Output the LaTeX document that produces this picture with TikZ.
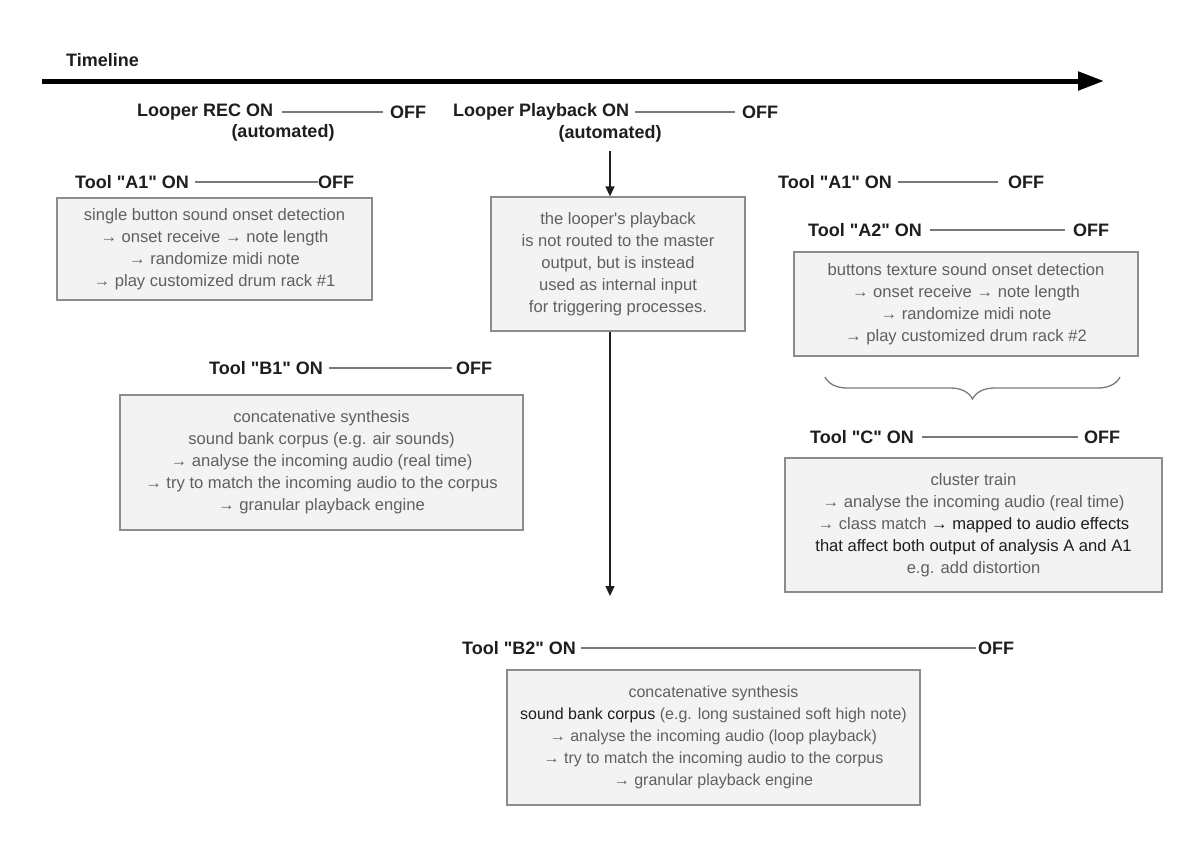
\documentclass[tikz,border=0pt]{standalone}
\usepackage{fontspec}
\setmainfont{Liberation Sans}[Ligatures=TeXOff]
\usetikzlibrary{arrows.meta,decorations.pathreplacing}
\definecolor{boxfill}{HTML}{F3F3F3}
\definecolor{boxline}{HTML}{8C8C8C}
\definecolor{boxtext}{HTML}{606060}
\definecolor{dark}{HTML}{1E1E1E}
\definecolor{spanline}{HTML}{7A7A7A}
\begin{document}
\begin{tikzpicture}[x=1pt,y=-1pt,
  lbl/.style={font=\fontsize{18}{20}\selectfont\bfseries, text=dark, inner sep=0pt},
  tbox/.style={draw=boxline, fill=boxfill, line width=1.3pt, align=center, text=boxtext,
               font=\fontsize{16.6}{22}\selectfont, inner sep=0pt},
  span/.style={draw=spanline, line width=1.3pt},
  flow/.style={draw=dark, line width=1.3pt, -{Triangle[length=10pt,width=9pt]}},
]
\useasboundingbox[fill=white] (0,0) rectangle (1200,844);

% timeline
\node[lbl, anchor=west] (tl) at (66,60) {Timeline};
\coordinate (tlstart) at (42,81);
\coordinate (tlend) at (1104,81);
\draw[line width=5pt, -{Triangle[length=26pt,width=18pt]}] (tlstart) -- (tlend);

% looper rec
\node[lbl, anchor=west] (recon) at (137,112) {Looper REC ON};
\node[lbl, anchor=west] (recoff) at (390,112) {OFF};
\draw[span] ([xshift=9pt]recon.east) -- ([xshift=-7pt]recoff.west);
\node[lbl] (recauto) at (283,133) {(automated)};

% looper playback
\node[lbl, anchor=west] (pbon) at (453,112) {Looper Playback ON};
\node[lbl, anchor=west] (pboff) at (742,112) {OFF};
\draw[span] ([xshift=6pt]pbon.east) -- ([xshift=-7pt]pboff.west);
\node[lbl] (pbauto) at (610,134) {(automated)};

% middle box
\node[tbox, minimum width=254pt, minimum height=134pt] (midbox) at (618,264)
  {the looper's playback\\is not routed to the master\\output, but is instead\\used as internal input\\for triggering processes.};
\draw[flow] ([yshift=-8pt]pbauto.south) -- (pbauto.south |- midbox.north);
\coordinate (b2tip) at (610,596);
\draw[flow] (midbox.south -| b2tip) -- (b2tip);

% tool A1 left
\node[lbl, anchor=west] (a1on) at (75,182) {Tool "A1" ON};
\node[lbl, anchor=west] (a1off) at (318,182) {OFF};
\draw[span] ([xshift=6pt]a1on.east) -- (a1off.west);
\node[tbox, minimum width=315pt, minimum height=102pt] (a1box) at (214.5,249)
  {single button sound onset detection\\→ onset receive → note length\\→ randomize midi note\\→ play customized drum rack \#1};

% tool B1
\node[lbl, anchor=west] (b1on) at (209,368) {Tool "B1" ON};
\node[lbl, anchor=west] (b1off) at (456,368) {OFF};
\draw[span] ([xshift=6pt]b1on.east) -- ([xshift=-4pt]b1off.west);
\node[tbox, minimum width=403pt, minimum height=135pt] (b1box) at (321.5,462.5)
  {concatenative synthesis\\sound bank corpus (e.g. air sounds)\\→ analyse the incoming audio (real time)\\→ try to match the incoming audio to the corpus\\→ granular playback engine};

% tool A1 right
\node[lbl, anchor=west] (a1ron) at (778,182) {Tool "A1" ON};
\node[lbl, anchor=west] (a1roff) at (1008,182) {OFF};
\draw[span] ([xshift=6pt]a1ron.east) -- ([xshift=-10pt]a1roff.west);

% tool A2
\node[lbl, anchor=west] (a2on) at (808,230) {Tool "A2" ON};
\node[lbl, anchor=west] (a2off) at (1073,230) {OFF};
\draw[span] ([xshift=8pt]a2on.east) -- ([xshift=-8pt]a2off.west);
\node[tbox, minimum width=344pt, minimum height=104pt] (a2box) at (966,304)
  {buttons texture sound onset detection\\→ onset receive → note length\\→ randomize midi note\\→ play customized drum rack \#2};

% brace
\coordinate (brl) at (825,377);
\coordinate (brr) at (1120,377);
\draw[span, decorate, decoration={brace, amplitude=22pt, mirror}] (brl) -- (brr);

% tool C
\node[lbl, anchor=west] (con) at (810,437) {Tool "C" ON};
\node[lbl, anchor=west] (coff) at (1084,437) {OFF};
\draw[span] ([xshift=8pt]con.east) -- ([xshift=-6pt]coff.west);
\node[tbox, minimum width=377pt, minimum height=134pt] (cbox) at (973.5,525)
  {cluster train\\→ analyse the incoming audio (real time)\\→ class match {\color{dark}→ mapped to audio effects}\\{\color{dark}that affect both output of analysis A and A1}\\e.g. add distortion};

% tool B2
\node[lbl, anchor=west] (b2on) at (462,648) {Tool "B2" ON};
\node[lbl, anchor=west] (b2off) at (978,648) {OFF};
\draw[span] ([xshift=5pt]b2on.east) -- ([xshift=-2pt]b2off.west);
\node[tbox, minimum width=413pt, minimum height=135pt, font=\fontsize{16}{22}\selectfont] (b2box) at (713.5,737.5)
  {concatenative synthesis\\{\color{dark}sound bank corpus} (e.g. long sustained soft high note)\\→ analyse the incoming audio (loop playback)\\→ try to match the incoming audio to the corpus\\→ granular playback engine};
\end{tikzpicture}
\end{document}
